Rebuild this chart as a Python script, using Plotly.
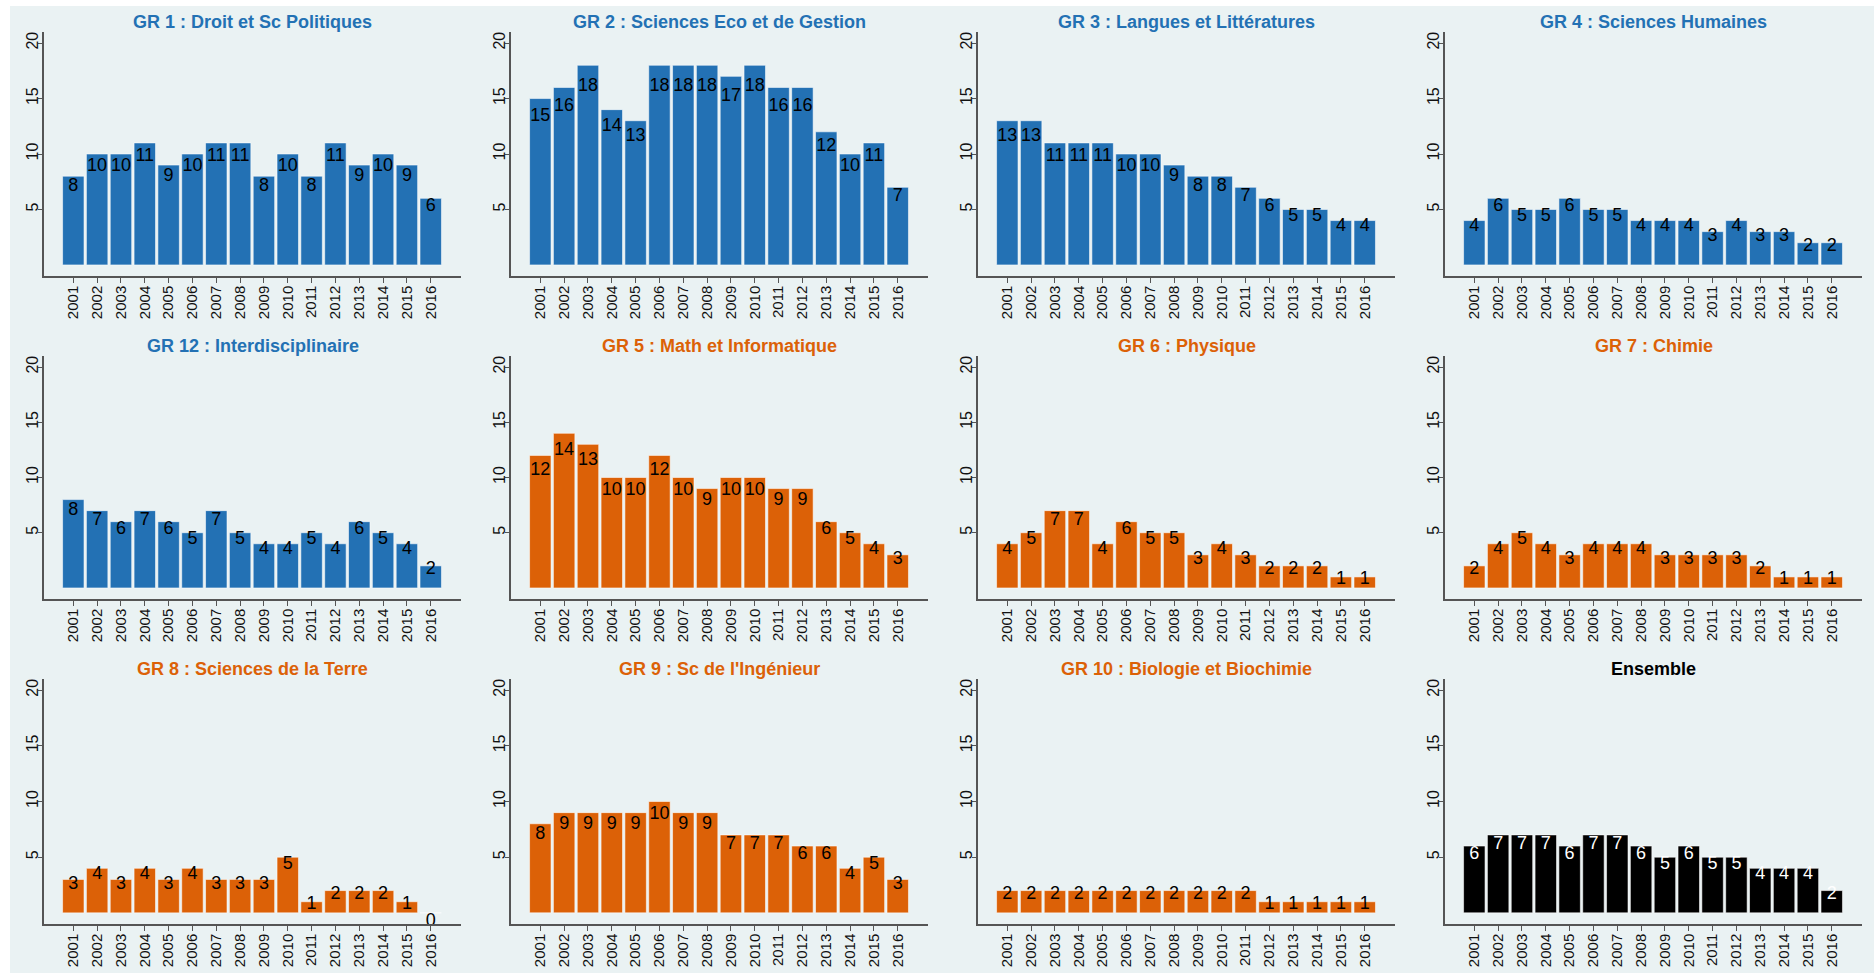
import plotly.graph_objects as go

years = list(range(2001, 2017))
year_labels = [str(y) for y in years]

titles = [
    "GR 1 : Droit et Sc Politiques", "GR 2 : Sciences Eco et de Gestion",
    "GR 3 : Langues et Littératures", "GR 4 : Sciences Humaines",
    "GR 12 : Interdisciplinaire", "GR 5 : Math et Informatique",
    "GR 6 : Physique", "GR 7 : Chimie",
    "GR 8 : Sciences de la Terre", "GR 9 : Sc de l'Ingénieur",
    "GR 10 : Biologie et Biochimie", "Ensemble",
]

gr1 = [8, 10, 10, 11, 9, 10, 11, 11, 8, 10, 8, 11, 9, 10, 9, 6]
gr2 = [15, 16, 18, 14, 13, 18, 18, 18, 17, 18, 16, 16, 12, 10, 11, 7]
gr3 = [13, 13, 11, 11, 11, 10, 10, 9, 8, 8, 7, 6, 5, 5, 4, 4]
gr4 = [4, 6, 5, 5, 6, 5, 5, 4, 4, 4, 3, 4, 3, 3, 2, 2]
gr12 = [8, 7, 6, 7, 6, 5, 7, 5, 4, 4, 5, 4, 6, 5, 4, 2]
gr5 = [12, 14, 13, 10, 10, 12, 10, 9, 10, 10, 9, 9, 6, 5, 4, 3]
gr6 = [4, 5, 7, 7, 4, 6, 5, 5, 3, 4, 3, 2, 2, 2, 1, 1]
gr7 = [2, 4, 5, 4, 3, 4, 4, 4, 3, 3, 3, 3, 2, 1, 1, 1]
gr8 = [3, 4, 3, 4, 3, 4, 3, 3, 3, 5, 1, 2, 2, 2, 1, 0]
gr9 = [8, 9, 9, 9, 9, 10, 9, 9, 7, 7, 7, 6, 6, 4, 5, 3]
gr10 = [2, 2, 2, 2, 2, 2, 2, 2, 2, 2, 2, 1, 1, 1, 1, 1]
ensemble = [6, 7, 7, 7, 6, 7, 7, 6, 5, 6, 5, 5, 4, 4, 4, 2]

series = [gr1, gr2, gr3, gr4, gr12, gr5, gr6, gr7, gr8, gr9, gr10, ensemble]

BLUE = "#2371b4"
ORANGE = "#dc6107"
BLACK = "#000000"
colors = [BLUE] * 5 + [ORANGE] * 6 + [BLACK]
label_colors = ["#000000"] * 11 + ["#ffffff"]
title_colors = [BLUE] * 5 + [ORANGE] * 6 + [BLACK]

W, H = 1874, 973
col_x = [44, 511, 978, 1445]
pw = 417
row_top = [32, 356, 679]
row_bot = [276, 599, 924]

FONT = "Liberation Sans, Arial, Helvetica, sans-serif"
BG = "#eaf2f3"

fig = go.Figure()
layout = dict(
    width=W, height=H, margin=dict(l=0, r=0, t=0, b=0),
    paper_bgcolor="white", plot_bgcolor="white", showlegend=False,
    font=dict(family=FONT, color="#111111"),
    shapes=[dict(type="rect", xref="paper", yref="paper", x0=10 / W, x1=1,
                 y0=0, y1=1 - 6 / H, fillcolor=BG, line=dict(width=0), layer="below")],
    annotations=[], bargap=0.1,
)

for i, (title, vals) in enumerate(zip(titles, series)):
    r, c = divmod(i, 4)
    idx = i + 1
    xa = "x" if idx == 1 else f"x{idx}"
    ya = "y" if idx == 1 else f"y{idx}"
    xd = [col_x[c] / W, (col_x[c] + pw) / W]
    yd = [1 - row_bot[r] / H, 1 - row_top[r] / H]
    layout["xaxis" if idx == 1 else f"xaxis{idx}"] = dict(
        domain=xd, anchor=ya, range=[1999.77, 2017.27],
        tickvals=years, ticktext=year_labels, tickangle=-90,
        showline=True, linecolor="#555555", linewidth=1.5,
        ticks="outside", ticklen=5, tickcolor="#555555",
        ticklabelstandoff=-3,
        showgrid=False, zeroline=False,
        tickfont=dict(size=15, family=FONT, color="#111111"),
    )
    layout["yaxis" if idx == 1 else f"yaxis{idx}"] = dict(
        domain=yd, anchor=xa, range=[-1, 21],
        tickvals=[5, 10, 15, 20], tickangle=-90,
        showline=True, linecolor="#555555", linewidth=1.5,
        ticks="outside", ticklen=4, tickcolor="#555555",
        ticklabelstandoff=-6,
        showgrid=True, gridcolor=BG, gridwidth=1.5, zeroline=False,
        tickfont=dict(size=16, family=FONT, color="#111111"),
    )
    fig.add_trace(go.Bar(
        x=years, y=vals, width=0.9, xaxis=xa, yaxis=ya,
        marker=dict(color=colors[i], line=dict(color="rgba(255,255,255,0.55)", width=1)),
        hoverinfo="x+y",
    ))
    # label placement inside the bar (Stata "inside" style): slightly below the top
    label_y = [0.9 * v - 0.15 if v > 0 else 0 for v in vals]
    label_pos = ["middle center" if v > 0 else "bottom center" for v in vals]
    fig.add_trace(go.Scatter(
        x=years, y=label_y, mode="text", text=[str(v) for v in vals],
        textposition=label_pos, xaxis=xa, yaxis=ya, cliponaxis=False,
        textfont=dict(size=18, family=FONT, color=label_colors[i]),
        hoverinfo="skip",
    ))
    layout["annotations"].append(dict(
        text=f"<b>{title}</b>", xref="paper", yref="paper",
        x=(xd[0] + xd[1]) / 2, y=yd[1], xanchor="center", yanchor="bottom",
        showarrow=False, yshift=-2,
        font=dict(size=18, family=FONT, color=title_colors[i]),
    ))

fig.update_layout(**layout)
fig.write_html(
    "out.html",
    config={"displayModeBar": False},
    post_script="document.body.style.margin='0px';document.body.style.overflow='hidden';",
)
